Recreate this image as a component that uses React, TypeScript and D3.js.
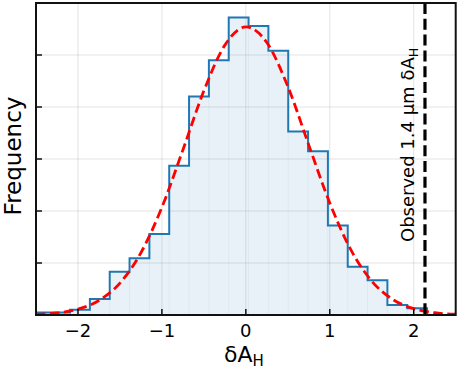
import React, { useEffect } from "react";
import { scaleLinear, line, area, curveStepAfter, curveMonotoneX, range } from "d3";

// histogram bins (density), 20 bins from -2.567 to 2.159
const binStart = -2.567;
const binWidth = 0.2363;
const density = [
  0.005, 0.005, 0.01, 0.031, 0.083, 0.109, 0.156, 0.287, 0.42, 0.49,
  0.572, 0.556, 0.508, 0.353, 0.315, 0.172, 0.093, 0.067, 0.019, 0.013,
];

// fitted normal curve
const fitX = [
  -2.5, -2.25, -2, -1.75, -1.5, -1.25, -1, -0.75, -0.5, -0.25, 0,
  0.25, 0.5, 0.75, 1, 1.25, 1.5, 1.75, 2, 2.25, 2.5,
];
const fitY = [
  0.0013, 0.004, 0.0112, 0.0279, 0.0614, 0.1198, 0.2071, 0.3174, 0.4311, 0.519, 0.554,
  0.524, 0.4395, 0.3267, 0.2153, 0.1257, 0.0651, 0.0299, 0.0122, 0.0044, 0.0014,
];

const observed = 2.134;
const xTicks = [-2, -1, 0, 1, 2];
const yTicks = [0, 0.1, 0.2, 0.3, 0.4, 0.5, 0.6];

const W = 458;
const H = 370;
const margin = { top: 3, right: 2.3, bottom: 55, left: 36 };
const font = "DejaVu Sans, sans-serif";

export default function App() {
  useEffect(() => {
    document.body.style.margin = "0";
  }, []);

  const x = scaleLinear().domain([-2.5, 2.5]).range([margin.left, W - margin.right]);
  const y = scaleLinear().domain([0, 0.6]).range([H - margin.bottom, margin.top]);

  const edges = range(density.length + 1).map((i) => binStart + i * binWidth);
  const stepPts: [number, number][] = edges.map((e, i) => [e, i < density.length ? density[i] : 0]);
  const stepLine = line<[number, number]>()
    .x((d) => x(d[0]))
    .y((d) => y(d[1]))
    .curve(curveStepAfter);
  const stepArea = area<[number, number]>()
    .x((d) => x(d[0]))
    .y0(y(0))
    .y1((d) => y(d[1]))
    .curve(curveStepAfter);
  const outline: [number, number][] = [[edges[0], 0], ...stepPts];

  const fitLine = line<number>()
    .x((_, i) => x(fitX[i]))
    .y((d) => y(d))
    .curve(curveMonotoneX);

  const x0 = margin.left;
  const x1 = W - margin.right;
  const y0 = H - margin.bottom;
  const y1 = margin.top;

  return (
    <svg width={W} height={H} style={{ display: "block" }} fontFamily={font}>
      <defs>
        <clipPath id="plot">
          <rect x={x0} y={y1} width={x1 - x0} height={y0 - y1} />
        </clipPath>
      </defs>
      <rect width={W} height={H} fill="white" />
      {/* grid */}
      <g stroke="#b0b0b0" strokeOpacity={0.35} strokeWidth={1}>
        {xTicks.map((t) => (
          <line key={t} x1={x(t)} x2={x(t)} y1={y1} y2={y0} />
        ))}
        {yTicks.slice(1, -1).map((t) => (
          <line key={t} x1={x0} x2={x1} y1={y(t)} y2={y(t)} />
        ))}
      </g>
      <g clipPath="url(#plot)">
        <path d={stepArea(stepPts) || ""} fill="#1f77b4" fillOpacity={0.1} />
        <g stroke="#1f77b4" strokeOpacity={0.06} strokeWidth={1}>
          {edges.slice(1, -1).map((e, i) => (
            <line key={i} x1={x(e)} x2={x(e)} y1={y0} y2={y(Math.min(density[i], density[i + 1]))} />
          ))}
        </g>
        <path d={stepLine(outline) || ""} fill="none" stroke="#1f77b4" strokeWidth={2} />
        <path
          d={fitLine(fitY) || ""}
          fill="none"
          stroke="#ff0000"
          strokeWidth={2.8}
          strokeDasharray="9.5,4.5"
        />
        <line
          x1={x(observed)}
          x2={x(observed)}
          y1={y1}
          y2={y0}
          stroke="black"
          strokeWidth={3.2}
          strokeDasharray="11,4.8"
        />
      </g>
      {/* observed label */}
      <text
        transform={`translate(${x(observed) - 10.5},242) rotate(-90)`}
        fontSize={18}
        fill="black"
      >
        Observed 1.4 μm δA<tspan fontSize={12.5} dy={3.5}>H</tspan>
      </text>
      {/* ticks */}
      <g stroke="black" strokeWidth={1.4}>
        {xTicks.map((t) => (
          <line key={t} x1={x(t)} x2={x(t)} y1={y0} y2={y0 - 6} />
        ))}
        {yTicks.map((t) => (
          <line key={t} x1={x0} x2={x0 + 6} y1={y(t)} y2={y(t)} />
        ))}
      </g>
      {xTicks.map((t) => (
        <text key={t} x={x(t)} y={y0 + 21.5} fontSize={18} textAnchor="middle" fill="black">
          {t < 0 ? `\u2212${-t}` : t}
        </text>
      ))}
      {/* frame */}
      <rect x={x0} y={y1} width={x1 - x0} height={y0 - y1} fill="none" stroke="#111" strokeWidth={2} />
      {/* axis labels */}
      <text x={(x0 + x1) / 2 - 2} y={362} fontSize={22} textAnchor="middle" fill="black">
        δA<tspan fontSize={15} dy={4}>H</tspan>
      </text>
      <text
        transform={`translate(20.5,${(y0 + y1) / 2 - 3}) rotate(-90)`}
        fontSize={23}
        textAnchor="middle"
        fill="black"
      >
        Frequency
      </text>
    </svg>
  );
}
